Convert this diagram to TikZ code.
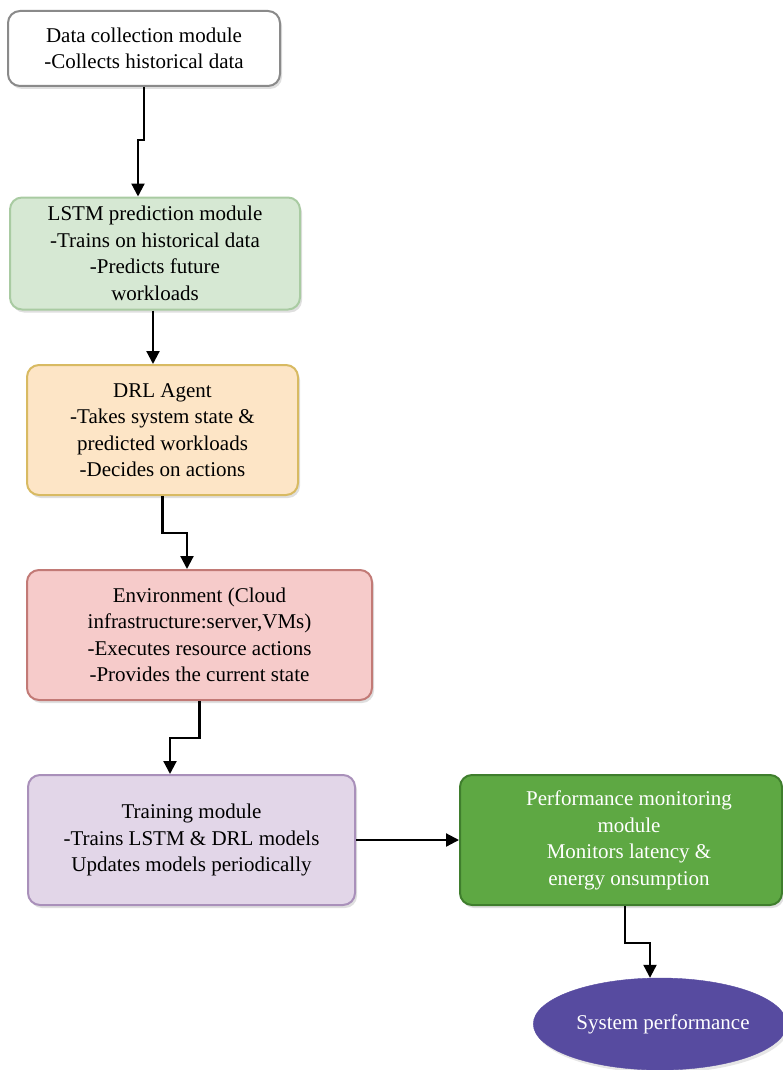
\documentclass[tikz,border=0pt]{standalone}
\usepackage{fontspec}
\setmainfont{Liberation Serif}
\usetikzlibrary{arrows.meta,shadows,shapes.geometric}

\definecolor{boxgray}{HTML}{8A8A8A}
\definecolor{lstmfill}{HTML}{D6E8D3}
\definecolor{lstmdraw}{HTML}{A9CBA2}
\definecolor{drlfill}{HTML}{FDE5C6}
\definecolor{drldraw}{HTML}{D8BA62}
\definecolor{envfill}{HTML}{F6CBCA}
\definecolor{envdraw}{HTML}{C27A76}
\definecolor{trainfill}{HTML}{E2D6E8}
\definecolor{traindraw}{HTML}{A990BA}
\definecolor{perffill}{HTML}{5EA843}
\definecolor{perfdraw}{HTML}{3F7E2D}
\definecolor{sysfill}{HTML}{574BA0}

\tikzset{
  module/.style={rounded corners=12pt,line width=2pt,align=center,inner sep=0pt,
    font=\fontsize{21}{26.5}\selectfont,
    drop shadow={opacity=0.25,shadow xshift=2pt,shadow yshift=-3pt}},
  arr/.style={line width=2.2pt,-{Triangle[length=13pt,width=13pt]}}
}

\begin{document}
\begin{tikzpicture}[x=1pt,y=-1pt]
        \useasboundingbox (0,0) rectangle (782,1070);
        \node[module,draw=boxgray,fill=white,minimum width=272,minimum height=75] (data) at (144,48.5)
          {Data collection module\\-Collects historical data};
        \node[module,draw=lstmdraw,fill=lstmfill,minimum width=290,minimum height=112] (lstm) at (155,253.5)
          {LSTM prediction module\\-Trains on historical data\\-Predicts future\\workloads};
        \node[module,draw=drldraw,fill=drlfill,minimum width=271,minimum height=130] (drl) at (162.5,430)
          {DRL Agent\\-Takes system state \&\\predicted workloads\\-Decides on actions};
        \node[module,draw=envdraw,fill=envfill,minimum width=345,minimum height=130] (env) at (199.5,635)
          {Environment (Cloud\\infrastructure:server,VMs)\\-Executes resource actions\\-Provides the current state};
        \node[module,draw=traindraw,fill=trainfill,minimum width=327,minimum height=130] (train) at (191.5,840)
          {Training module\\-Trains LSTM \& DRL models\\Updates models periodically};
        \node[module,draw=perfdraw,fill=perffill,text=white,minimum width=322,minimum height=130] (perf) at (621,840)
          {\hspace*{16pt}\begin{tabular}{@{}c@{}}Performance monitoring\\module\\Monitors latency \&\\energy onsumption\end{tabular}};
        \node[ellipse,draw=sysfill,fill=sysfill,text=white,minimum width=250,minimum height=92,inner sep=0pt,
          font=\fontsize{21}{26.5}\selectfont,
          drop shadow={opacity=0.2,shadow xshift=2pt,shadow yshift=-3pt}] (sys) at (660,1024)
          {\hspace*{6pt}System performance};

        \draw[arr] (data.south) -- ++(0,53) -| ([xshift=-17pt]lstm.north);
        \draw[arr] ([xshift=-2pt]lstm.south) -- ([xshift=-9.5pt]drl.north);
        \draw[arr] (drl.south) -- ++(0,37) -| ([xshift=-12.5pt]env.north);
        \draw[arr] (env.south) -- ++(0,37) -| ([xshift=-21.5pt]train.north);
        \draw[arr] (train.east) -- (perf.west);
        \draw[arr] ([xshift=4pt]perf.south) -- ++(0,37) -| ([xshift=-10pt]sys.north);
      \end{tikzpicture}
\end{document}
